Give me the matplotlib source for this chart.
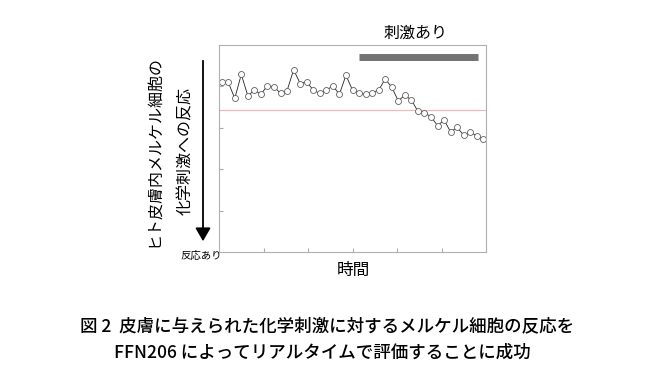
import numpy as np
import matplotlib
matplotlib.use("Agg")
import matplotlib.pyplot as plt

plt.rcParams['font.family'] = ['Noto Sans CJK JP', 'DejaVu Sans']

# response trace (arbitrary units, higher = less response)
response = [4.11, 4.10, 3.71, 4.29, 3.77, 3.91, 3.81, 4.02, 3.99, 3.83,
            3.90, 4.40, 4.07, 4.11, 3.91, 3.83, 3.91, 4.01, 3.81, 4.27,
            3.91, 3.85, 3.81, 3.85, 3.91, 4.18, 3.98, 3.65, 3.79, 3.67,
            3.40, 3.36, 3.27, 3.05, 3.19, 2.90, 3.01, 2.82, 2.90, 2.80,
            2.72]
frames = np.arange(len(response))
threshold = 3.44
stim_start, stim_end = 21.0, 39.2
stim_level = 4.70

W, H = 650, 370
fig = plt.figure(figsize=(W / 100, H / 100), dpi=100)
fig.patch.set_facecolor('white')

def fx(px):
    return px / W

def fy(py):
    return 1 - py / H

ax = fig.add_axes([fx(219), fy(252), fx(486) - fx(219), fy(45) - fy(252)])
xmin, xmax = -0.41, len(response) - 1 + 0.41
ax.set_xlim(xmin, xmax)
ax.set_ylim(0, 5)
ax.set_xticks(np.linspace(xmin, xmax, 7)[1:-1])
ax.set_yticks([1, 2, 3, 4])
ax.tick_params(direction='in', length=3, color='#aaaaaa', labelleft=False, labelbottom=False)
for s in ax.spines.values():
    s.set_color('#b0b0b0')
    s.set_linewidth(0.8)

ax.axhline(threshold, color='#f6b4b4', lw=0.8)
ax.plot(frames, response, color='#222222', lw=0.6, marker='o', ms=4.3,
        mfc='white', mec='#606060', mew=0.6)
ax.hlines(stim_level, stim_start, stim_end, color='#737373', lw=5)

fig.text(fx(416), fy(33), '刺激あり', ha='center', va='center', fontsize=11.5)
fig.text(fx(353), fy(270), '時間', ha='center', va='center', fontsize=12)
fig.text(fx(201), fy(256), '反応あり', ha='center', va='center', fontsize=7.5)

fig.text(fx(154), fy(151), 'ヒト皮膚内メルケル細胞の', ha='center', va='center',
         rotation=90, fontsize=11.5)
fig.text(fx(186), fy(151), '化学刺激への反応', ha='center', va='center',
         rotation=90, fontsize=11.5)
fig.patches.append(matplotlib.patches.FancyArrowPatch(
    (fx(203), fy(58)), (fx(203), fy(244)), transform=fig.transFigure,
    arrowstyle='-|>,head_length=4,head_width=2.3', color='black', lw=1.3,
    mutation_scale=2))

fig.text(fx(327), fy(326), '図 2  皮膚に与えられた化学刺激に対するメルケル細胞の反応を',
         ha='center', va='center', fontsize=12.6, fontweight='medium')
fig.text(fx(322), fy(353), 'FFN206 によってリアルタイムで評価することに成功',
         ha='center', va='center', fontsize=12.6, fontweight='medium')

fig.savefig('out.png', dpi=100)
